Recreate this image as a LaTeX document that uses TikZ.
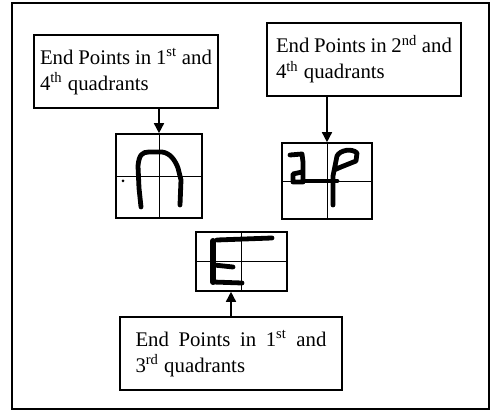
\documentclass[tikz,border=0pt]{standalone}
\usepackage{fontspec}
\setmainfont{Liberation Serif}
\usetikzlibrary{arrows.meta, positioning, calc}

\begin{document}
\begin{tikzpicture}[x=0.5pt, y=-0.5pt,
    textbox/.style={draw, line width=0.9pt, align=justify, minimum height=36.5pt,
        font=\fontsize{10.4}{13}\selectfont},
    gridbox/.style={draw, line width=0.8pt, inner sep=0pt},
    gridline/.style={line width=0.45pt},
    glyph/.style={line width=2.4pt, line join=round, line cap=round},
    link/.style={-{Triangle[width=5pt, length=5pt]}, line width=0.75pt}]
    \useasboundingbox (0,0) rectangle (494,411);
    \draw[line width=1pt] (12,3) rectangle (489,409);

    % text boxes
    \node[textbox, text width=86pt, inner xsep=3pt] (box1) at (126,71.5) {End Points in 1\textsuperscript{st} and\linebreak 4\textsuperscript{th} quadrants};
    \node[textbox, text width=88pt, inner xsep=4.5pt] (box2) at (364,59.5) {End Points in 2\textsuperscript{nd} and\linebreak 4\textsuperscript{th} quadrants};
    \node[textbox, text width=95.5pt, inner xsep=7.75pt] (box3) at (231,353.5) {End Points in 1\textsuperscript{st} and\linebreak 3\textsuperscript{rd} quadrants};

    % quadrant grids
    \node[gridbox, minimum width=43pt, minimum height=42pt] (grid1) at (159,176) {};
    \node[gridbox, minimum width=45pt, minimum height=38pt] (grid2) at (327,181) {};
    \node[gridbox, minimum width=45.5pt, minimum height=29.5pt] (grid3) at (241.5,261.5) {};
    \foreach \g in {grid1, grid2, grid3} {
        \draw[gridline] (\g.north) -- (\g.south);
        \draw[gridline] (\g.west) -- (\g.east);
    }

    % strokes
    \draw[glyph] (141,207) -- (139,188) -- (138,166) .. controls (139,155) and (142,152) .. (149,152) -- (162,152) .. controls (170,153) and (175,160) .. (178,168) -- (181,180) -- (180,205);
    \fill (123,181) circle (1.5);
    \draw[glyph] (290,155) -- (302,154) -- (303,162) -- (303,182) -- (293,182) -- (293,174) -- (302,172);
    \draw[glyph] (303,181) -- (337,181);
    \draw[glyph] (333,205) -- (333,176) -- (337,156) .. controls (340,150) and (352,148) .. (357,153) -- (356,161) -- (341,167) -- (334,170);
    \draw[glyph] (217,240) -- (272,238);
    \draw[line width=3pt, line cap=round] (213,241) -- (213,282);
    \draw[glyph] (213,282) -- (242,283);
    \draw[glyph] (214,265) -- (233,267);

    % arrows
    \draw[link] (grid1.north |- box1.south) -- (grid1.north);
    \draw[link] (grid2.north |- box2.south) -- (grid2.north);
    \draw[link] (box3.north) -- (box3.north |- grid3.south);
\end{tikzpicture}
\end{document}
